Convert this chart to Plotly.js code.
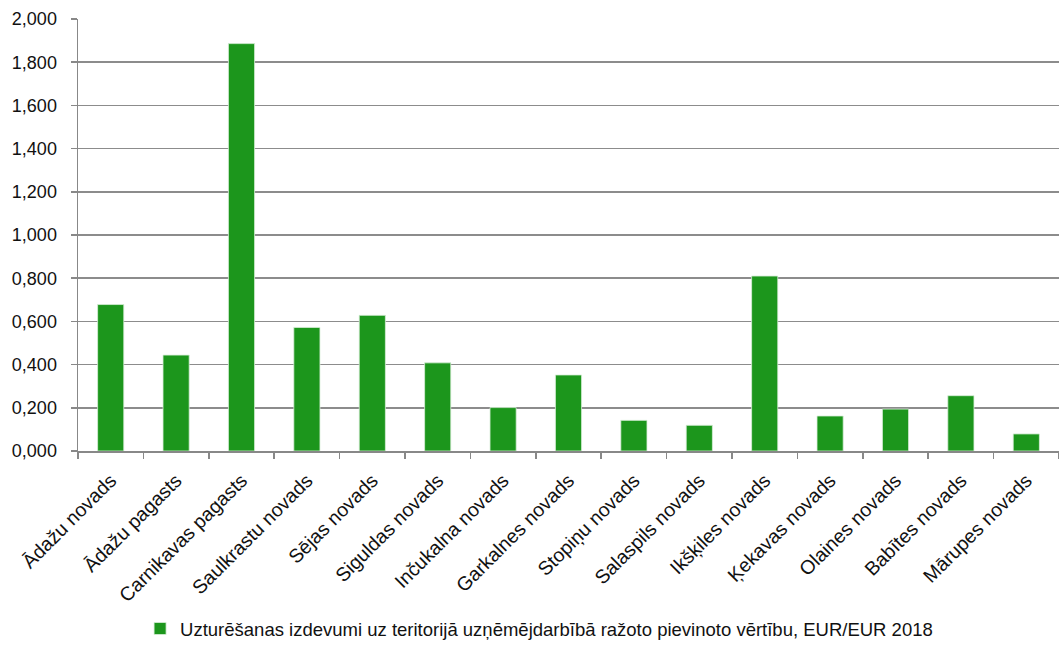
<!DOCTYPE html>
<html>
<head>
<meta charset="utf-8">
<script src="https://cdn.plot.ly/plotly-3.0.1.min.js"></script>
<style>html,body{margin:0;padding:0;background:#fff;}#chart{width:1059px;height:648px;}</style>
</head>
<body>
<div id="chart"></div>
<script>
const categories = ["Ādažu novads","Ādažu pagasts","Carnikavas pagasts","Saulkrastu novads","Sējas novads","Siguldas novads","Inčukalna novads","Garkalnes novads","Stopiņu novads","Salaspils novads","Ikšķiles novads","Ķekavas novads","Olaines novads","Babītes novads","Mārupes novads"];
const values = [0.678,0.444,1.886,0.572,0.628,0.408,0.201,0.352,0.142,0.119,0.810,0.162,0.194,0.256,0.079];
const seriesName = "Uzturēšanas izdevumi uz teritorijā uzņēmējdarbībā ražoto pievinoto vērtību, EUR/EUR 2018";
const yTicks = [0,0.2,0.4,0.6,0.8,1.0,1.2,1.4,1.6,1.8,2.0];

const fam = "Liberation Sans, Arial, sans-serif";
Plotly.newPlot("chart", [{
  type: "bar",
  x: categories,
  y: values,
  name: seriesName,
  marker: {color: "#1c961c", line: {color: "#d8eed8", width: 0.8}},
  width: 0.4,
  showlegend: true
}], {
  width: 1059, height: 648,
  margin: {l: 78, r: 0, t: 19, b: 192},
  separators: ",.",
  paper_bgcolor: "#fff", plot_bgcolor: "#fff",
  font: {family: fam, size: 18, color: "#111"},
  xaxis: {
    type: "category",
    automargin: false,
    tickangle: -45,
    tickson: "boundaries",
    ticks: "outside", ticklen: 6, tickcolor: "#888", tickwidth: 1.5,
    ticklabelstandoff: 9,
    showline: true, linecolor: "#888", linewidth: 1.5,
    showgrid: false,
    tickfont: {family: fam, size: 19.5, color: "#111"},
    fixedrange: true
  },
  yaxis: {
    automargin: false,
    range: [0, 2.0],
    tickvals: yTicks,
    tickformat: ".3f",
    ticks: "outside", ticklen: 6, tickcolor: "#888", tickwidth: 1.5,
    ticklabelstandoff: 10,
    showline: true, linecolor: "#888", linewidth: 1.5,
    showgrid: true, gridcolor: "#8c8c8c", gridwidth: 1.5,
    zeroline: false,
    tickfont: {family: fam, size: 18, color: "#111"},
    fixedrange: true
  },
  showlegend: true,
  legend: {
    orientation: "h",
    x: 0.47, xanchor: "center",
    y: -0.412, yanchor: "middle",
    font: {family: fam, size: 18.5, color: "#111"},
    itemwidth: 30
  }
}, {displayModeBar: false, staticPlot: true});
</script>
</body>
</html>
